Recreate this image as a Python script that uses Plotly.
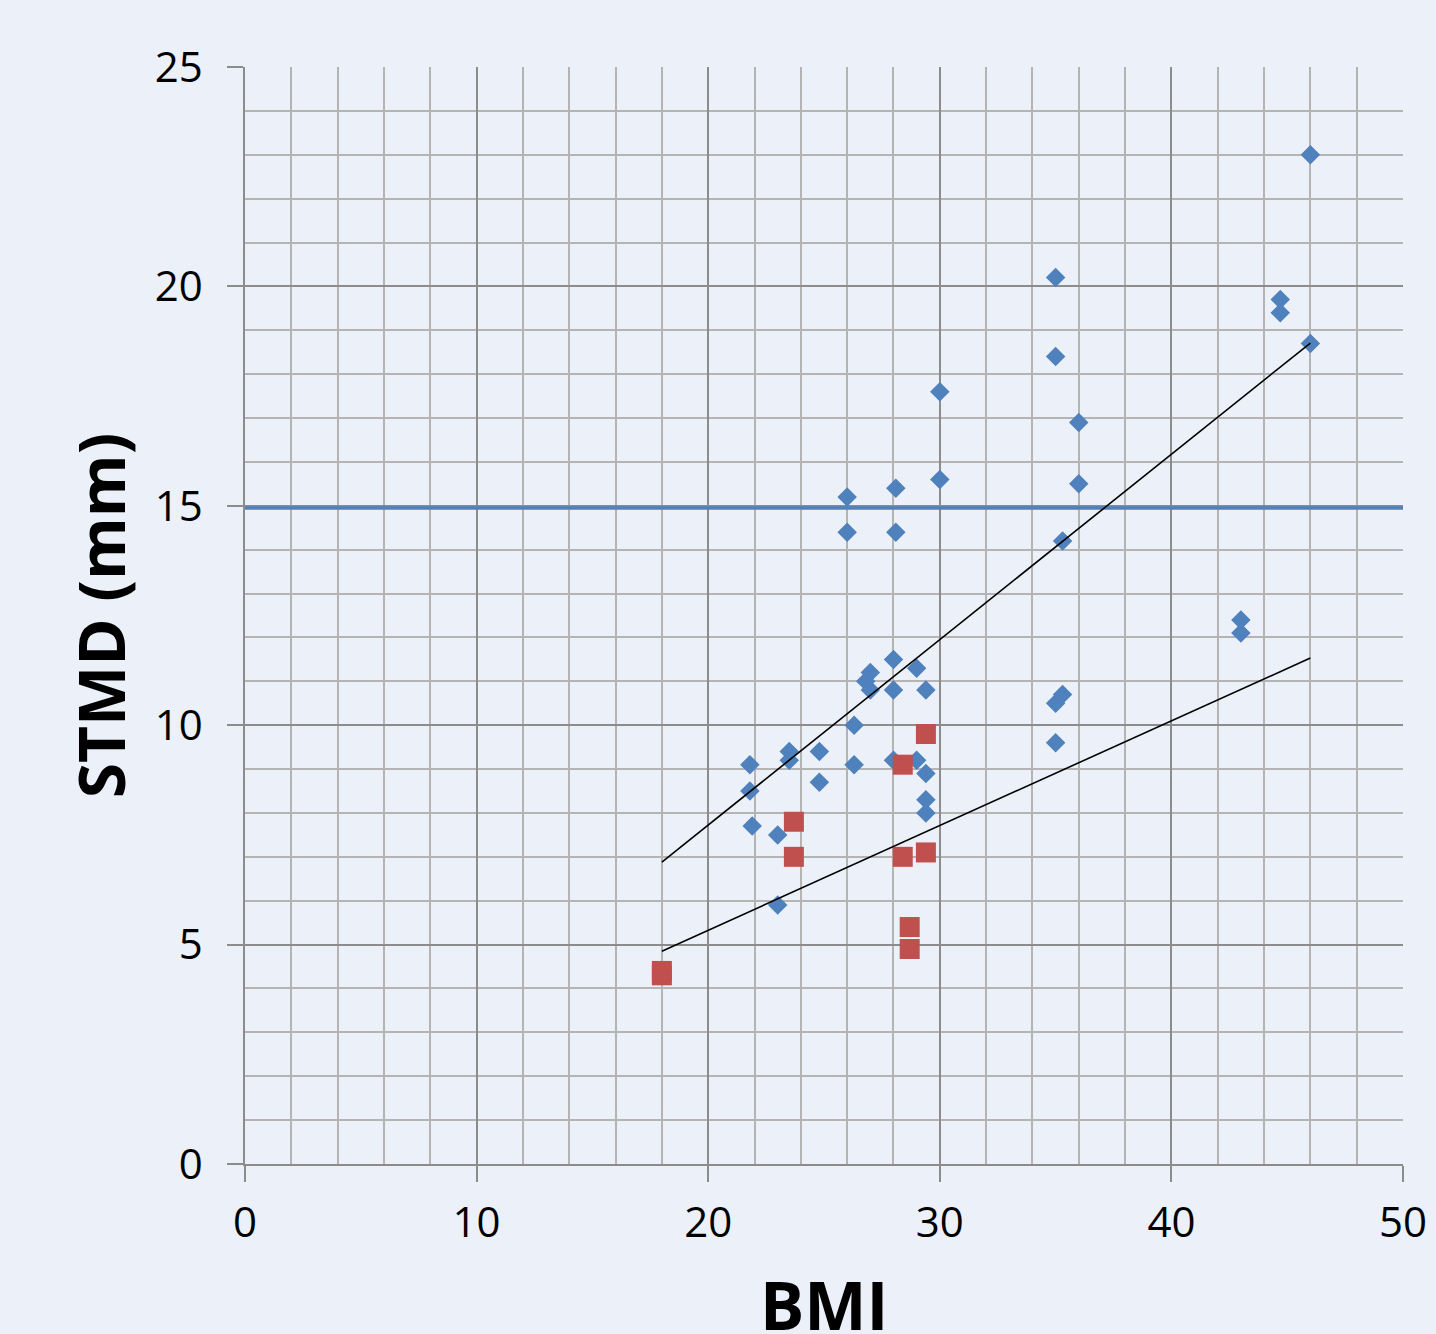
import plotly.graph_objects as go

# Blue series (diamonds)
blue_bmi = [21.8, 21.8, 21.9, 23.0, 23.0, 23.5, 23.5, 24.8, 24.8, 26.0, 26.0, 26.3, 26.3,
            27.0, 26.8, 27.0, 28.0, 28.0, 29.0, 29.4, 28.1, 28.1, 30.0, 30.0, 28.0, 29.0,
            29.4, 29.4, 29.4, 35.0, 35.0, 36.0, 36.0, 35.3, 35.0, 35.3, 35.0, 43.0, 43.0,
            44.7, 44.7, 46.0, 46.0]
blue_stmd = [9.1, 8.5, 7.7, 7.5, 5.9, 9.4, 9.2, 9.4, 8.7, 15.2, 14.4, 10.0, 9.1,
             11.2, 11.0, 10.8, 11.5, 10.8, 11.3, 10.8, 15.4, 14.4, 17.6, 15.6, 9.2, 9.2,
             8.9, 8.3, 8.0, 20.2, 18.4, 16.9, 15.5, 14.2, 10.5, 10.7, 9.6, 12.4, 12.1,
             19.7, 19.4, 18.7, 23.0]

# Red series (squares)
red_bmi = [18.0, 18.0, 23.7, 23.7, 28.4, 28.4, 28.7, 28.7, 29.4, 29.4]
red_stmd = [4.3, 4.4, 7.8, 7.0, 9.1, 7.0, 5.4, 4.9, 9.8, 7.1]

# Trend lines
trend_x = [18, 46]
trend_upper = [6.88, 18.71]
trend_lower = [4.85, 11.53]

# Threshold line
thr_x = [0, 50]
thr_y = [14.95, 14.95]

X_TITLE = "BMI"
Y_TITLE = "STMD (mm)"

BLUE = "#4F81BD"
RED = "#C0504D"
BG = "#ECF1F9"
MAJ = "#8C8C8C"
MIN = "#B4B4B4"

fig = go.Figure()
fig.add_trace(go.Scatter(x=thr_x, y=thr_y, mode="lines",
                         line=dict(color=BLUE, width=3.5), showlegend=False))
fig.add_trace(go.Scatter(x=blue_bmi, y=blue_stmd, mode="markers",
                         marker=dict(symbol="diamond", size=15, color=BLUE, line=dict(width=0)),
                         showlegend=False))
fig.add_trace(go.Scatter(x=red_bmi, y=red_stmd, mode="markers",
                         marker=dict(symbol="square", size=20, color=RED, line=dict(width=0)),
                         showlegend=False))
fig.add_trace(go.Scatter(x=trend_x, y=trend_upper, mode="lines",
                         line=dict(color="black", width=1.6), showlegend=False))
fig.add_trace(go.Scatter(x=trend_x, y=trend_lower, mode="lines",
                         line=dict(color="black", width=1.6), showlegend=False))

fig.update_layout(
    width=1436, height=1334,
    paper_bgcolor=BG, plot_bgcolor=BG,
    margin=dict(l=245, r=33, t=67, b=170),
    font=dict(family="Open Sans", color="black"),
    xaxis=dict(
        range=[0, 50], dtick=10, tick0=0,
        automargin=False,
        showgrid=True, gridcolor=MAJ, gridwidth=1.5,
        minor=dict(dtick=2, showgrid=True, gridcolor=MIN, gridwidth=1.5, ticks=""),
        ticks="outside", ticklen=16, tickcolor=MAJ, tickwidth=1.5,
        showline=True, linecolor=MAJ, linewidth=1.5,
        zeroline=False,
        tickfont=dict(size=42),
        ticklabelstandoff=5,
    ),
    yaxis=dict(
        range=[0, 25], dtick=5, tick0=0,
        automargin=False,
        showgrid=True, gridcolor=MAJ, gridwidth=1.5,
        minor=dict(dtick=1, showgrid=True, gridcolor=MIN, gridwidth=1.5, ticks=""),
        ticks="outside", ticklen=16, tickcolor=MAJ, tickwidth=1.5,
        showline=True, linecolor=MAJ, linewidth=1.5,
        zeroline=False,
        tickfont=dict(size=42),
        ticklabelstandoff=16,
        title=dict(text="<b>" + Y_TITLE + "</b>", font=dict(size=64), standoff=8),
    ),
    annotations=[dict(
        text="<b>" + X_TITLE + "</b>", xref="paper", yref="paper",
        x=0.5, y=-0.085, xanchor="center", yanchor="top",
        showarrow=False, font=dict(size=66, color="black"),
    )],
)

fig.write_html("out.html")
